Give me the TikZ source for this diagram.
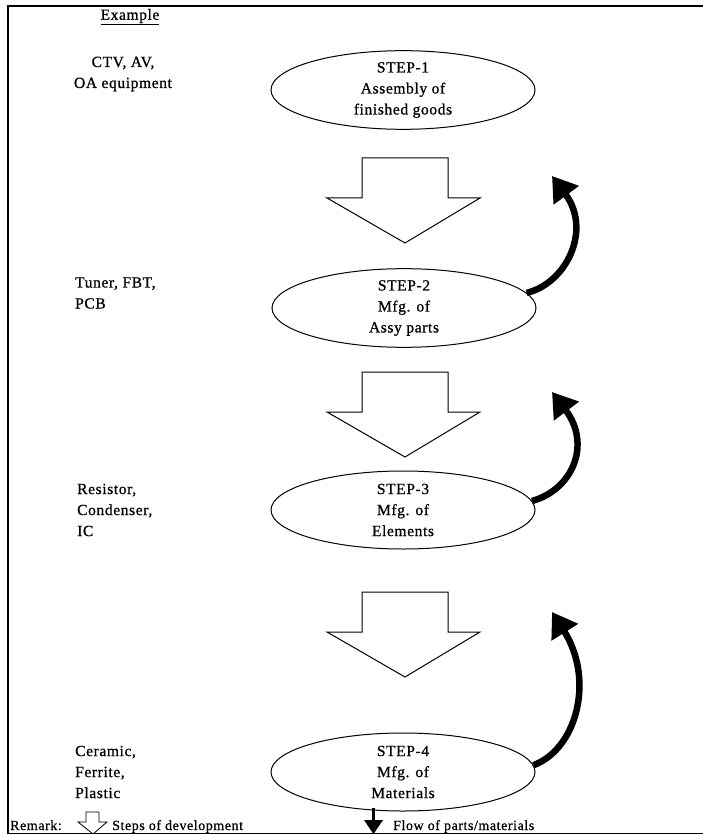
\documentclass[tikz,border=0pt]{standalone}
\usepackage{fontspec}
\setmainfont{Liberation Serif}[LetterSpace=4,FakeBold=0.8,AutoFakeBold=0.8]
\usetikzlibrary{arrows.meta,shapes.geometric}
\begin{document}
\begin{tikzpicture}[x=1pt,y=-1pt,
  stepnode/.style={draw,line width=1pt,ellipse,minimum width=264pt,minimum height=78pt,
    inner sep=0pt,align=center,font=\fontsize{15.5}{21}\selectfont\bfseries},
  lefttext/.style={font=\fontsize{15.5}{21}\selectfont\bfseries,inner sep=0pt},
  devarrow/.style={draw,line width=1pt,fill=white,line join=miter},
  flowarrow/.style={line width=6.5pt,-{Triangle[length=24pt,width=30pt]}},
  legendtext/.style={font=\fontsize{14}{16}\selectfont\bfseries,inner sep=0pt,anchor=base west}]
\useasboundingbox (0,0) rectangle (703,834);
% frame
\draw[line width=1.6pt] (8,834) -- (8,6) -- (703,6);
\draw[line width=1pt] (8,833) -- (703,833);

% left texts
\node[lefttext] (ex) at (130,17) {\underline{Example}};
\node[lefttext,align=center] (l1) at (123,74) {CTV, AV,\\OA equipment};
\node[lefttext,align=left,anchor=west] (l2) at (75,293) {Tuner, FBT,\\PCB};
\node[lefttext,align=left,anchor=west] (l3) at (77,510) {Resistor,\\Condenser,\\IC};
\node[lefttext,align=left,anchor=west] (l4) at (75,772) {Ceramic,\\Ferrite,\\Plastic};

% step ellipses
\node[stepnode] (e1) at (403,90) {STEP-1\\Assembly of\\finished goods};
\node[stepnode] (e2) at (404,308) {STEP-2\\Mfg. of\\Assy parts};
\node[stepnode] (e3) at (403,510) {STEP-3\\Mfg. of\\Elements};
\node[stepnode] (e4) at (403,772) {STEP-4\\Mfg. of\\Materials};

% development block arrows
\foreach \t/\n in {158/a1,372/a2,592/a3}{
  \draw[devarrow] (362,\t) -- (448,\t) -- (448,\t+40) -- (480,\t+40) -- (405,\t+85)
     -- (327,\t+40) -- (362,\t+40) -- cycle;
}

% flow arrows
\coordinate (t1) at (552,176);
\coordinate (t2) at (552,392);
\coordinate (t3) at (552,612);
\draw[flowarrow] (e2.7) .. controls +(40,-10) and +(40,54) .. (t1);
\draw[flowarrow] (e3.4) .. controls +(40,-11) and +(40,53) .. (t2);
\draw[flowarrow] (e4.3) .. controls +(43,-16) and +(43,68) .. (t3);

% legend
\node[legendtext] (rm) at (10,830) {Remark:};
\draw[devarrow,line width=0.8pt] (86,812) -- (99,812) -- (99,822) -- (107,822) -- (93,834)
   -- (78,822) -- (86,822) -- cycle;
\node[legendtext] (ls) at (112,830) {Steps of development};
\fill (372,808) rectangle (375,822);
\fill (364,820) -- (383,820) -- (373.5,834) -- cycle;
\node[legendtext] (lf) at (393,830) {Flow of parts/materials};
\end{tikzpicture}
\end{document}
